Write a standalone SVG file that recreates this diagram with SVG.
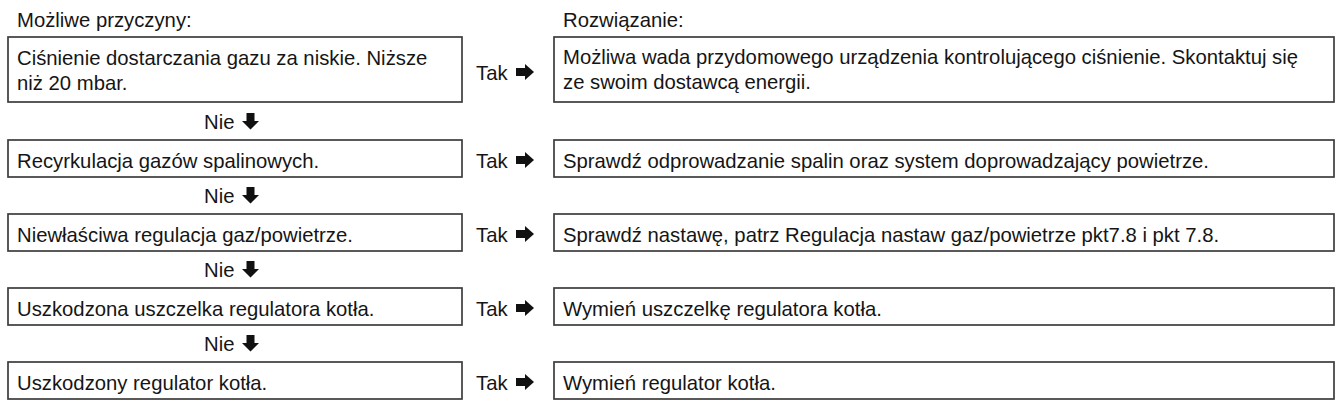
<svg xmlns="http://www.w3.org/2000/svg" xmlns:xlink="http://www.w3.org/1999/xlink" width="1337" height="401" viewBox="0 0 1337 401">
<style>
text{font-family:"Liberation Sans",Arial,sans-serif;font-size:20.3px;fill:#151515}
.box{fill:#fff;stroke:#3c3c3c;stroke-width:1.7}
.ar{fill:#111}
</style>
<defs>
<path id="ra" d="M0,-4 H9 V-8 L18,0 L9,8 V4 H0 Z"/>
<path id="da" d="M-4,0 H4 V8 H8.5 L0,16.5 L-8.5,8 H-4 Z"/>
</defs>
<rect width="1337" height="401" fill="#fff"/>
<text x="17" y="27">Możliwe przyczyny:</text>
<text x="563" y="27">Rozwiązanie:</text>

<g id="cause1"><rect class="box" x="8" y="37" width="454" height="65"/><text x="17" y="65">Ciśnienie dostarczania gazu za niskie. Niższe</text><text x="17" y="90">niż 20 mbar.</text></g>
<g id="cause2"><rect class="box" x="8" y="140" width="454" height="37"/><text x="17" y="168">Recyrkulacja gazów spalinowych.</text></g>
<g id="cause3"><rect class="box" x="8" y="214" width="454" height="37"/><text x="17" y="242">Niewłaściwa regulacja gaz/powietrze.</text></g>
<g id="cause4"><rect class="box" x="8" y="288" width="454" height="37"/><text x="17" y="316">Uszkodzona uszczelka regulatora kotła.</text></g>
<g id="cause5"><rect class="box" x="8" y="362" width="454" height="37"/><text x="17" y="390">Uszkodzony regulator kotła.</text></g>

<g id="sol1"><rect class="box" x="554" y="37" width="780" height="65"/><text x="563" y="64">Możliwa wada przydomowego urządzenia kontrolującego ciśnienie. Skontaktuj się</text><text x="563" y="89">ze swoim dostawcą energii.</text></g>
<g id="sol2"><rect class="box" x="554" y="140" width="780" height="37"/><text x="563" y="168">Sprawdź odprowadzanie spalin oraz system doprowadzający powietrze.</text></g>
<g id="sol3"><rect class="box" x="554" y="214" width="780" height="37"/><text x="563" y="242">Sprawdź nastawę, patrz Regulacja nastaw gaz/powietrze pkt7.8 i pkt 7.8.</text></g>
<g id="sol4"><rect class="box" x="554" y="288" width="780" height="37"/><text x="563" y="316">Wymień uszczelkę regulatora kotła.</text></g>
<g id="sol5"><rect class="box" x="554" y="362" width="780" height="37"/><text x="563" y="390">Wymień regulator kotła.</text></g>

<g id="connectors">
<text x="476" y="80">Tak</text><use xlink:href="#ra" class="ar" x="516" y="72"/>
<text x="476" y="168">Tak</text><use xlink:href="#ra" class="ar" x="516" y="160"/>
<text x="476" y="242">Tak</text><use xlink:href="#ra" class="ar" x="516" y="234"/>
<text x="476" y="316">Tak</text><use xlink:href="#ra" class="ar" x="516" y="308"/>
<text x="476" y="390">Tak</text><use xlink:href="#ra" class="ar" x="516" y="382"/>
<text x="204" y="129">Nie</text><use xlink:href="#da" class="ar" x="250.5" y="113"/>
<text x="204" y="203">Nie</text><use xlink:href="#da" class="ar" x="250.5" y="187"/>
<text x="204" y="277">Nie</text><use xlink:href="#da" class="ar" x="250.5" y="261"/>
<text x="204" y="351">Nie</text><use xlink:href="#da" class="ar" x="250.5" y="335"/>
</g>
</svg>
